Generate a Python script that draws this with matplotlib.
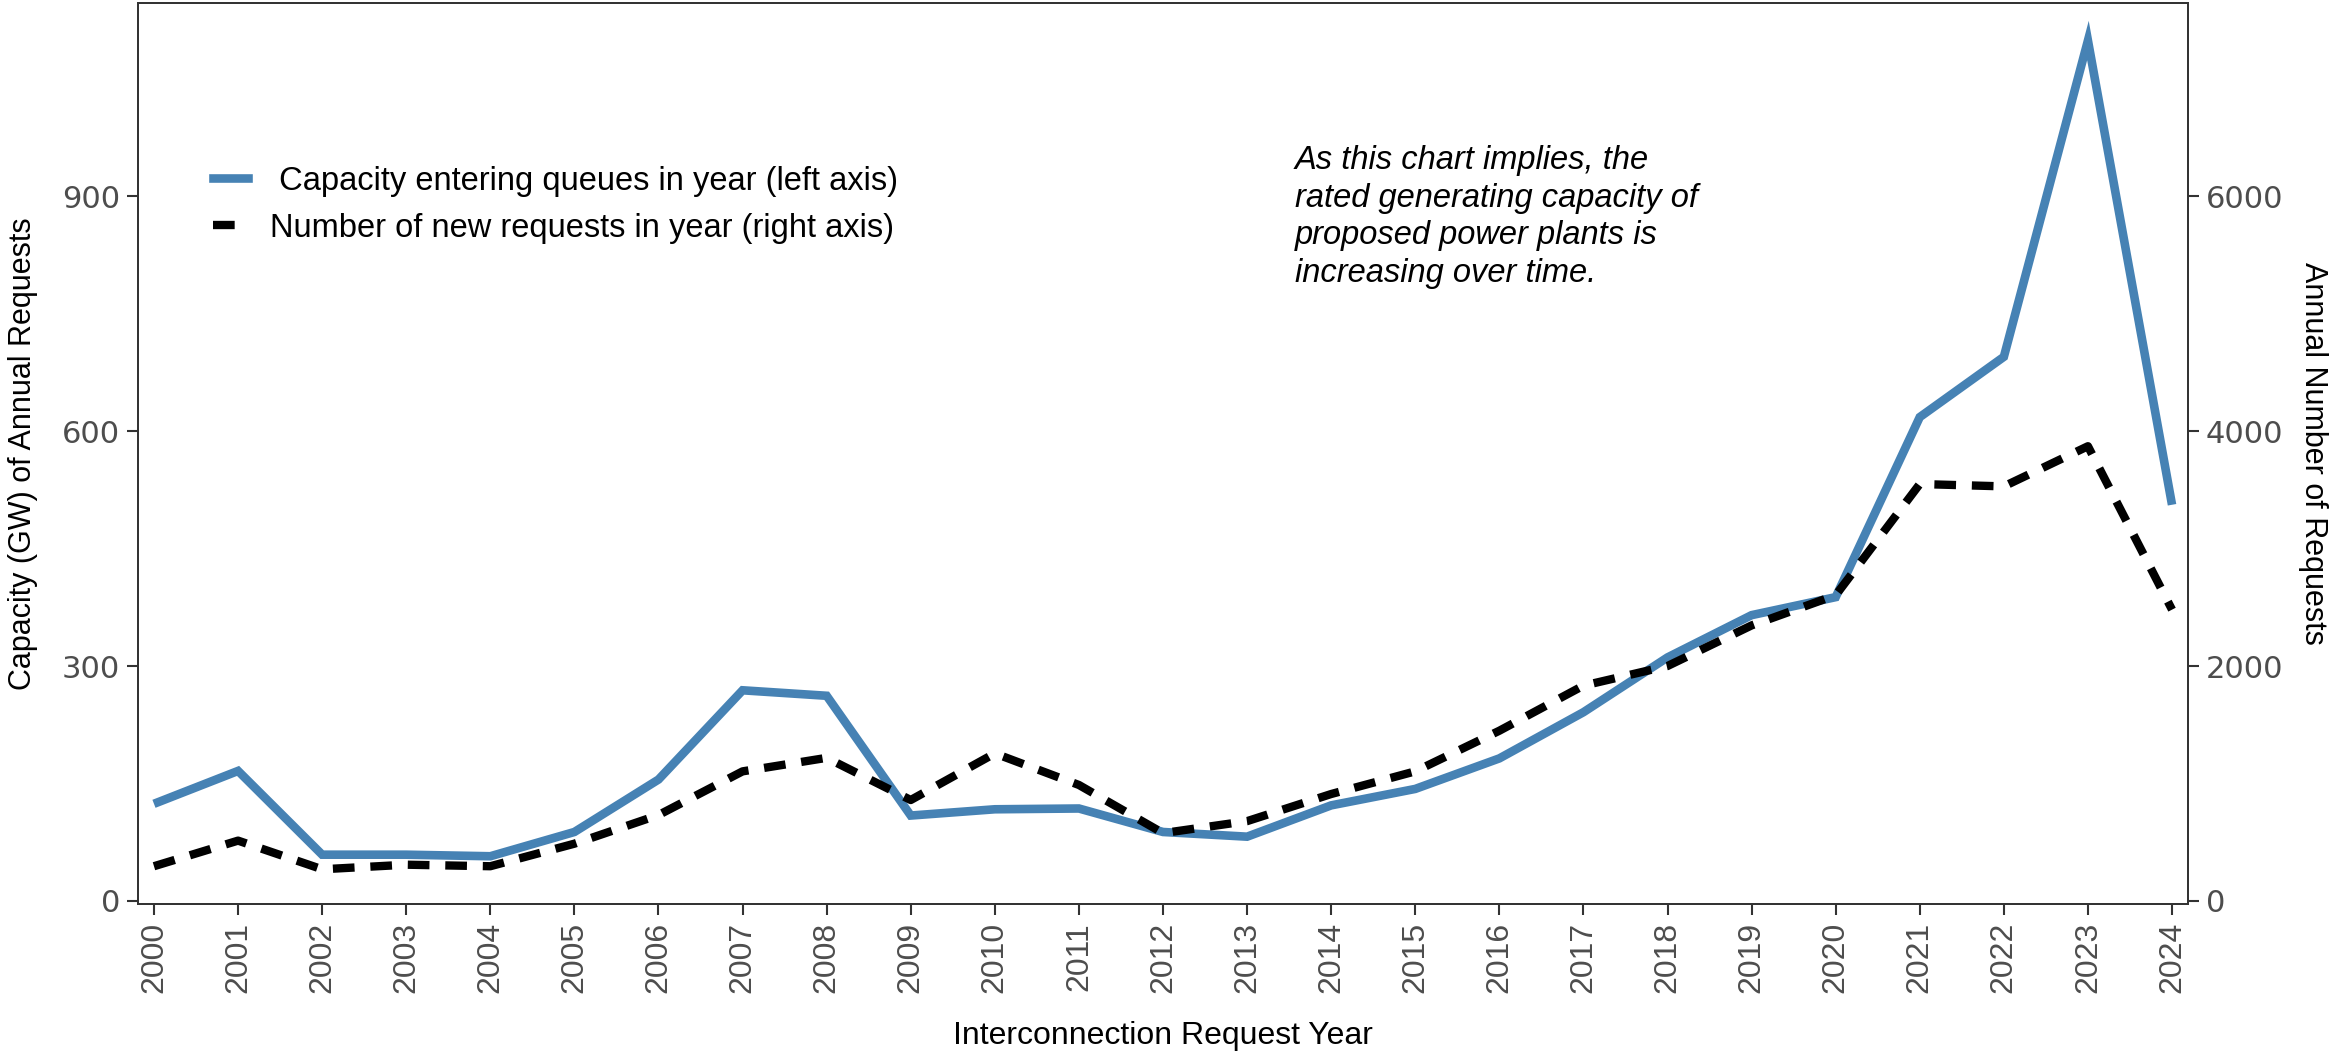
import matplotlib
matplotlib.use("Agg")
import matplotlib.pyplot as plt
from matplotlib.lines import Line2D

# values
years = list(range(2000, 2025))
capacity_gw = [124, 166, 59, 59, 57, 88, 155, 269, 262, 109, 117, 118, 88,
               82, 122, 143, 182, 241, 311, 365, 388, 618, 695, 1099, 506]
new_requests = [295, 513, 269, 308, 295, 487, 731, 1103, 1218, 859, 1256, 987,
                577, 679, 910, 1103, 1449, 1833, 2000, 2346, 2603, 3550, 3530,
                3872, 2480]
left_ticks = [0, 300, 600, 900]
right_ticks = [0, 2000, 4000, 6000]
legend_labels = [" Capacity entering queues in year (left axis)",
                 "Number of new requests in year (right axis)"]
note_lines = ["As this chart implies, the",
              "rated generating capacity of",
              "proposed power plants is",
              "increasing over time."]

blue = "#4682B4"
grey = "#4D4D4D"
scale = 20 / 3  # right axis = left axis * scale
dash = [2.6, 1.9]

fig = plt.figure(figsize=(23.48, 10.56), dpi=100)
ax = fig.add_axes([138 / 2348, 1 - 904 / 1056, 2050 / 2348, 901 / 1056])
ax2 = ax.twinx()

ax.plot(years, capacity_gw, color=blue, lw=6.2, solid_joinstyle="miter",
        solid_capstyle="butt")
dash_line, = ax2.plot(years, new_requests, color="black", lw=6.0,
                      dash_capstyle="butt")
dash_line.set_dashes(dash)

ax.set_xlim(1999.81, 2024.19)
ax.set_ylim(-4, 1147)
ax2.set_ylim(-4 * scale, 1147 * scale)

ax.set_xticks(years)
ax.set_xticklabels([str(y) for y in years], rotation=90, fontsize=23,
                   color=grey, family="Liberation Sans")
ax.set_yticks(left_ticks)
ax.set_yticklabels([str(v) for v in left_ticks], fontsize=22, color=grey,
                   family="DejaVu Sans")
ax2.set_yticks(right_ticks)
ax2.set_yticklabels([str(v) for v in right_ticks], fontsize=22, color=grey,
                    family="DejaVu Sans")

for a in (ax, ax2):
    a.tick_params(length=8, width=1.5, color="#333333", pad=5)
    for s in a.spines.values():
        s.set_color("#333333")
        s.set_linewidth(1.3)

ax.set_xlabel("Interconnection Request Year", fontsize=23,
              family="Liberation Sans", labelpad=20)
ax.set_ylabel("Capacity (GW) of Annual Requests", fontsize=22,
              family="Liberation Sans", labelpad=17)
ax2.set_ylabel("Annual Number of Requests", fontsize=22,
               family="Liberation Sans", rotation=270, labelpad=32)

handles = [Line2D([], [], color=blue, lw=6.2),
           Line2D([], [], color="black", lw=6.0, dashes=dash)]
ax2.legend(handles, legend_labels,
           loc="upper left", bbox_to_anchor=(0.078, 0.871),
           bbox_transform=fig.transFigure, frameon=False,
           prop={"family": "Liberation Sans", "size": 23.5},
           handlelength=1.1, handletextpad=0.65, labelspacing=0.5)

ax.text(0.5644, 0.842, "\n".join(note_lines), transform=ax.transAxes,
        fontsize=23.5, family="Liberation Sans", style="italic", va="top",
        ha="left", linespacing=1.27)

fig.savefig("out.png", dpi=100)
